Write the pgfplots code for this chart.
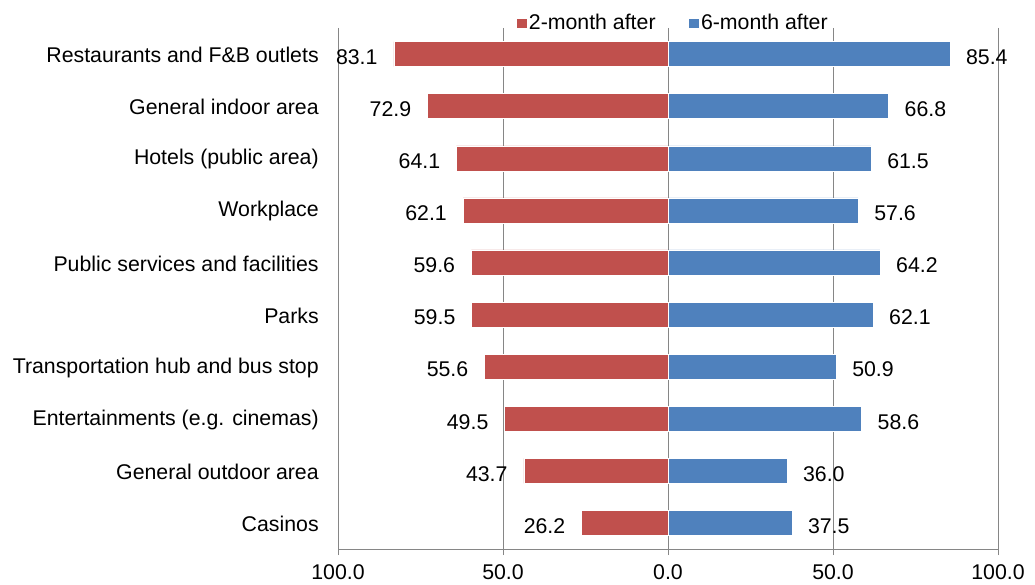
\documentclass[border=0pt]{standalone}
\usepackage{pgfplots}
\pgfplotsset{compat=1.18}
\usepackage{fontspec}
\setmainfont{Liberation Sans}
\definecolor{cred}{HTML}{C0504D}
\definecolor{cblue}{HTML}{4F81BD}
\definecolor{cgrid}{HTML}{868686}
\newcommand{\cf}{\fontsize{21.3}{25}\selectfont}
\begin{document}
\begin{tikzpicture}
\cf
\path[use as bounding box] (0,0) rectangle (1035pt,585pt);
\begin{axis}[
  at={(338pt,36pt)}, anchor=south west,
  scale only axis, width=660pt, height=521pt,
  font=\cf,
  xmin=-100, xmax=100,
  ymin=-0.5, ymax=9.5, y dir=reverse,
  xtick={-100,-50,0,50,100},
  xticklabels={100.0,50.0,0.0,50.0,100.0},
  /pgf/number format/assume math mode=true,
  ytick={0,...,9},
  yticklabels={Restaurants and F\&B outlets,General indoor area,Hotels (public area),Workplace,Public services and facilities,Parks,Transportation hub and bus stop,Entertainments (e.g. cinemas),General outdoor area,Casinos},
  axis x line*=bottom, axis y line*=left,
  x axis line style={cgrid, line width=1pt, -},
  y axis line style={draw=none},
  xmajorgrids, grid style={cgrid, line width=1pt},
  tick align=outside, major tick length=6pt,
  xtick style={cgrid, line width=1pt},
  ytick style={draw=none},
  ticklabel style={font=\cf},
  yticklabel style={xshift=-6pt, yshift=-1pt},
  xticklabel style={yshift=-2pt},
  xbar, bar width=25pt, bar shift=0pt,
  nodes near coords, point meta=explicit symbolic,
  every node near coord/.append style={font=\cf, black},
  legend style={at={(0.507,1.0)}, anchor=south, yshift=-7pt, draw=none, fill=none, legend columns=2,
    /tikz/every even column/.append style={column sep=30pt}, font=\cf, inner sep=0pt,
    nodes={inner sep=2pt}},
  legend image code/.code={\fill[#1] (-1pt,-4.5pt) rectangle (10pt,5pt);},
  clip=false,
]
\addplot[fill=cred, draw=white, line width=0.4pt,
  every node near coord/.append style={anchor=east, xshift=-9pt, yshift=-3pt}]
coordinates {
(-83.1,0) [83.1]
(-72.9,1) [72.9]
(-64.1,2) [64.1]
(-62.1,3) [62.1]
(-59.6,4) [59.6]
(-59.5,5) [59.5]
(-55.6,6) [55.6]
(-49.5,7) [49.5]
(-43.7,8) [43.7]
(-26.2,9) [26.2]
};
\addlegendentry{2-month after}
\addplot[fill=cblue, draw=white, line width=0.4pt,
  every node near coord/.append style={anchor=west, xshift=9pt, yshift=-3pt}]
coordinates {
(85.4,0) [85.4]
(66.8,1) [66.8]
(61.5,2) [61.5]
(57.6,3) [57.6]
(64.2,4) [64.2]
(62.1,5) [62.1]
(50.9,6) [50.9]
(58.6,7) [58.6]
(36.0,8) [36.0]
(37.5,9) [37.5]
};
\addlegendentry{6-month after}
\end{axis}
\end{tikzpicture}
\end{document}
